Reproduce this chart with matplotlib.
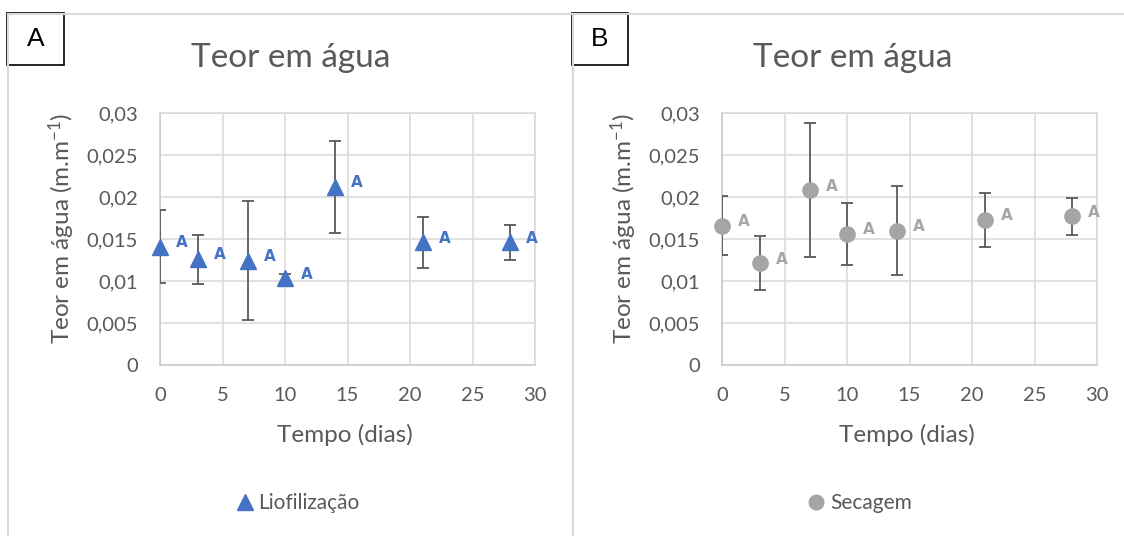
import matplotlib
matplotlib.use("Agg")
import matplotlib.pyplot as plt
from matplotlib.ticker import FuncFormatter, MultipleLocator
from matplotlib.patches import Rectangle
from matplotlib.lines import Line2D

# ---------------- data ----------------
tempo = [0, 3, 7, 10, 14, 21, 28]
liof_vals = [0.0141, 0.0126, 0.0124, 0.0103, 0.0212, 0.0146, 0.0146]
liof_err = [0.0043, 0.0029, 0.0071, 0.0005, 0.0055, 0.0030, 0.0021]
sec_vals = [0.0166, 0.0121, 0.0208, 0.0156, 0.0160, 0.0173, 0.0177]
sec_err = [0.0035, 0.0032, 0.0080, 0.0037, 0.0053, 0.0032, 0.0022]
letters_liof = ["A"] * 7
letters_sec = ["A"] * 7
panel_labels = ["A", "B"]
series_names = ["Liofilização", "Secagem"]
title = "Teor em água"
xlabel = "Tempo (dias)"
ylabel = "Teor em água (m.m$^{-1}$)"

plt.rcParams['font.family'] = ['Lato', 'DejaVu Sans']
plt.rcParams['mathtext.default'] = 'regular'

W, H = 1124, 536
fig = plt.figure(figsize=(W / 100, H / 100), dpi=100)

TXT = '#595959'
GRID = '#D9D9D9'


def fx(px):
    return px / W


def fy(py):
    return 1 - py / H


# outer chart borders
for seg in [((8, 13.5), (W, 13.5)), ((8, 13.5), (8, H)), ((573, 13.5), (573, H))]:
    (x0, y0), (x1, y1) = seg
    fig.add_artist(Line2D([fx(x0), fx(x1)], [fy(y0), fy(y1)], color=GRID, lw=1.5))

panels = [
    dict(left=160, vals=liof_vals, err=liof_err, letters=letters_liof, color='#4472C4',
         marker='^', ms=11.5, name=series_names[0], box=(7, 13, 64, 65), lab=panel_labels[0],
         title_x=291, leg_x=298),
    dict(left=722, vals=sec_vals, err=sec_err, letters=letters_sec, color='#A5A5A5',
         marker='o', ms=11, name=series_names[1], box=(572, 13, 628, 65), lab=panel_labels[1],
         title_x=853, leg_x=860),
]

top, bottom, width = 113, 365, 375

for p in panels:
    ax = fig.add_axes([fx(p['left']), fy(bottom), width / W, (bottom - top) / H])
    ax.set_xlim(0, 30)
    ax.set_ylim(0, 0.03)
    ax.xaxis.set_major_locator(MultipleLocator(5))
    ax.yaxis.set_major_locator(MultipleLocator(0.005))
    ax.yaxis.set_major_formatter(FuncFormatter(lambda v, pos: f'{v:g}'.replace('.', ',')))
    ax.xaxis.set_major_formatter(FuncFormatter(lambda v, pos: f'{v:g}'))
    ax.grid(True, color=GRID, lw=1.1)
    ax.set_axisbelow(True)
    for s in ax.spines.values():
        s.set_color(GRID)
        s.set_linewidth(1.1)
    ax.spines['bottom'].set_color('#C8C8C8')
    ax.spines['left'].set_color('#C8C8C8')
    ax.tick_params(length=0, labelsize=14.5, labelcolor=TXT)
    ax.tick_params(axis='x', pad=16)
    ax.tick_params(axis='y', pad=16)

    ax.errorbar(tempo, p['vals'], yerr=p['err'], fmt='none', ecolor='#595959',
                elinewidth=1.3, capsize=4, capthick=1.3, zorder=3)
    ax.plot(tempo, p['vals'], linestyle='none', marker=p['marker'], ms=p['ms'],
            color=p['color'], mec=p['color'], zorder=4, clip_on=False, label=p['name'])
    for x, y, t in zip(tempo, p['vals'], p['letters']):
        ax.annotate(t, (x, y), xytext=(16, 3), textcoords='offset points',
                    ha='center', va='center', fontsize=11, fontweight='bold',
                    family='DejaVu Sans', color=p['color'], zorder=5)

    ax.set_xlabel(xlabel, fontsize=17.5, color=TXT)
    ax.xaxis.label.set_va('center')
    ax.xaxis.set_label_coords((345 - 160) / 375, (365 - 435) / 252)
    ax.set_ylabel(ylabel, fontsize=17.5, color=TXT)
    ax.yaxis.label.set_va('center')
    ax.yaxis.set_label_coords((62 - 160) / 375, (365 - 228) / 252)

    fig.text(fx(p['title_x']), fy(58), title, fontsize=24, color=TXT, ha='center', va='center')

    bx0, by0, bx1, by1 = p['box']
    fig.add_artist(Rectangle((fx(bx0), fy(by1)), fx(bx1 - bx0), (by1 - by0) / H,
                             transform=fig.transFigure, fill=False, ec='black', lw=1.2))
    fig.text(fx((bx0 + bx1) / 2), fy((by0 + by1) / 2), p['lab'], fontsize=19,
             family='Liberation Sans', ha='center', va='center', color='black')

    fig.legend(handles=[Line2D([], [], linestyle='none', marker=p['marker'], ms=p['ms'] - 0.5,
                               color=p['color'])],
               labels=[p['name']], loc='center', bbox_to_anchor=(fx(p['leg_x']), fy(503)),
               frameon=False, fontsize=15, labelcolor=TXT, handlelength=0.8,
               handletextpad=0.25, borderpad=0)

fig.savefig('out.png', dpi=100)
